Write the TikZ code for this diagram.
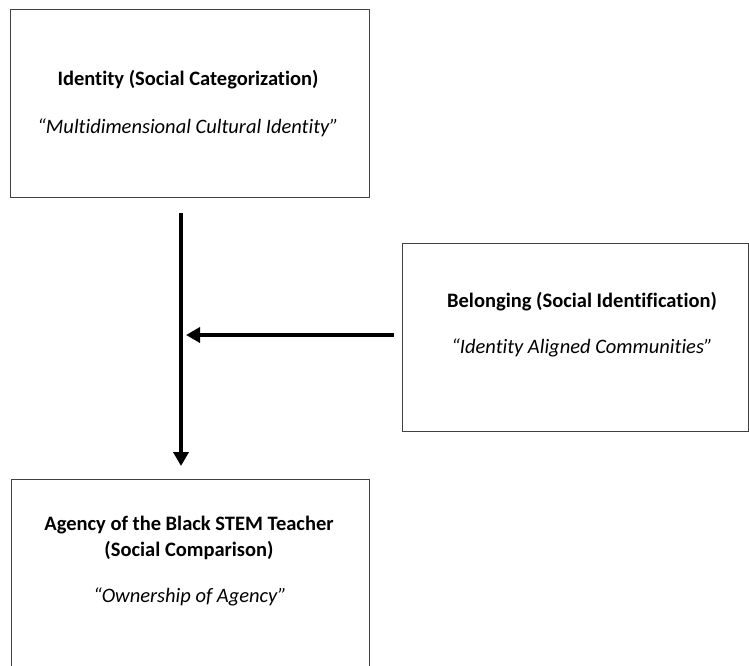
\documentclass[tikz,border=0pt]{standalone}
\usepackage{fontspec}
\setmainfont{Carlito}[Ligatures={NoCommon}]
\usetikzlibrary{arrows.meta}
\begin{document}
\begin{tikzpicture}[x=1pt,y=-1pt,
  box/.style={draw=black!75, line width=1pt, rectangle, inner sep=0pt},
  hd/.style={font=\fontsize{20.5}{25}\selectfont\bfseries, inner sep=0pt, anchor=center},
  it/.style={font=\fontsize{20.5}{25}\selectfont\itshape, inner sep=0pt, anchor=center},
  arr/.style={line width=4pt, -{Triangle[length=14pt,width=15pt]}}]
\useasboundingbox (0,0) rectangle (749,665);
\clip (0,0) rectangle (749,665);
\fill[white] (0,0) rectangle (749,665);
% boxes
\node[box, minimum width=359pt, minimum height=188pt] (b1) at (189.5,103) {};
\node[box, minimum width=346pt, minimum height=188pt] (b2) at (575,337) {};
\node[box, minimum width=358pt, minimum height=240pt] (b3) at (190,599) {};
% texts
\node[hd] (t1a) at (188,80) {Identity (Social Categorization)};
\node[it] (t1b) at (188,128) {“Multidimensional Cultural Identity”};
\node[hd] (t2a) at (582,302) {Belonging (Social Identification)};
\node[it] (t2b) at (582,348) {“Identity Aligned Communities”};
\node[hd] (t3a) at (189,525) {Agency of the Black STEM Teacher};
\node[hd] (t3b) at (189,550) {(Social Comparison)};
\node[it] (t3c) at (190,597) {“Ownership of Agency”};
% connectors
\coordinate (vs) at (181,213);
\coordinate (ve) at (181,466);
\coordinate (hs) at (394,335);
\coordinate (he) at (186,335);
\draw[arr] (vs) -- (ve);
\draw[arr] (hs) -- (he);
\end{tikzpicture}
\end{document}
